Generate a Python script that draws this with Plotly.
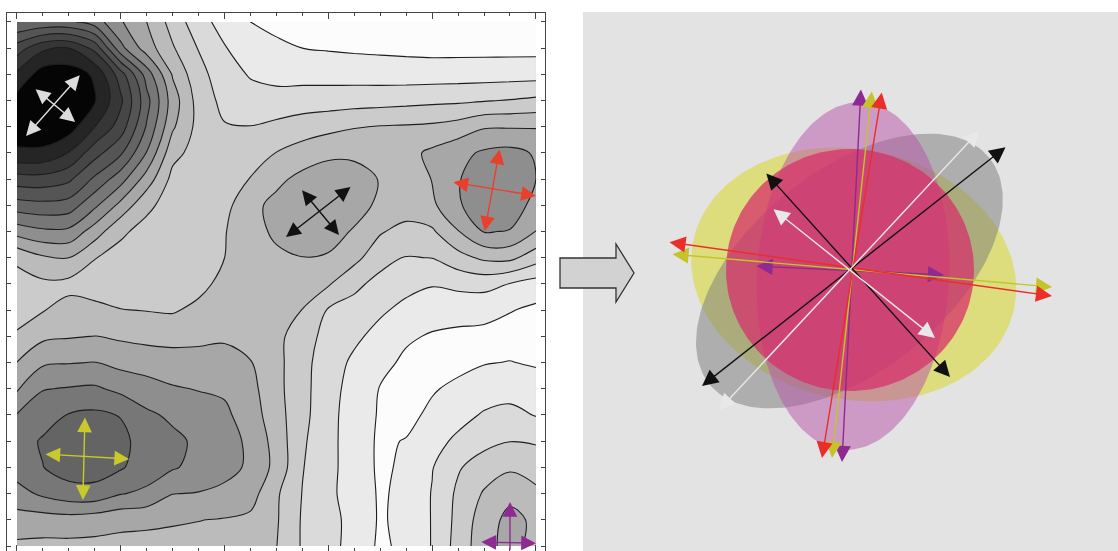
import numpy as np
import plotly.graph_objects as go

# ---------------- left panel: energy surface (contour levels) -------------
grid_x = list(range(21))
grid_y = list(range(21))
# rows listed from top (y=20) to bottom (y=0); columns x=0..20
energy_rows_top_down = [
    [6.0, 5.8, 5.8, 6.5, 7.9, 9.0, 10.4, 11.6, 12.4, 13.0, 13.4, 13.6, 13.7, 13.8, 13.8, 13.8, 13.8, 13.8, 13.8, 13.8, 13.8],
    [3.5, 2.2, 2.0, 3.3, 6.7, 8.5, 9.9, 11.05, 11.95, 12.35, 12.7, 13.0, 13.08, 13.15, 13.2, 13.25, 13.3, 13.3, 13.3, 13.3, 13.3],
    [1.8, 0.5, 0.45, 1.15, 3.55, 6.45, 9.1, 10.7, 11.5, 12.1, 12.33, 12.35, 12.38, 12.41, 12.45, 12.48, 12.48, 12.46, 12.44, 12.42, 12.39],
    [0.6, 0.2, 0.2, 0.9, 2.8, 5.65, 8.5, 10.4, 11.3, 11.53, 11.6, 11.52, 11.48, 11.43, 11.38, 11.3, 11.22, 11.17, 11.06, 10.95, 10.79],
    [0.5, 0.35, 0.5, 2.0, 3.45, 6.1, 8.85, 10.33, 10.93, 10.98, 10.77, 10.5, 10.3, 10.06, 9.95, 9.9, 9.82, 9.59, 9.1, 9.08, 9.07],
    [1.15, 1.2, 2.05, 3.6, 4.85, 7.05, 9.7, 10.4, 10.55, 10.3, 9.98, 9.58, 9.2, 9.19, 9.35, 9.3, 8.8, 8.3, 7.85, 7.7, 8.1],
    [3.45, 3.4, 3.8, 5.2, 6.6, 8.45, 10.3, 10.5, 10.45, 9.97, 9.25, 8.7, 8.5, 8.6, 9.05, 9.3, 8.98, 8.05, 7.6, 7.55, 8.0],
    [5.45, 5.3, 5.45, 6.8, 8.3, 9.8, 10.4, 10.6, 10.3, 9.3, 8.7, 8.4, 8.35, 8.6, 9.2, 9.4, 9.2, 8.1, 7.5, 7.5, 8.3],
    [7.6, 7.2, 7.25, 8.5, 9.85, 10.3, 10.5, 10.45, 10.05, 9.4, 8.8, 8.5, 8.6, 9.1, 9.9, 10.38, 10.15, 9.05, 7.95, 8.05, 9.02],
    [9.85, 9.15, 9.0, 9.97, 10.3, 10.5, 10.55, 10.4, 10.0, 9.5, 9.2, 9.02, 9.1, 9.7, 10.66, 11.05, 10.98, 10.37, 9.8, 9.75, 10.55],
    [10.3, 10.2, 10.3, 10.4, 10.5, 10.55, 10.5, 10.3, 9.7, 9.4, 9.35, 9.5, 9.9, 10.78, 11.3, 11.7, 11.93, 11.75, 11.67, 12.04, 12.43],
    [10.4, 10.05, 9.63, 9.78, 9.97, 10.03, 10.1, 9.75, 9.5, 9.4, 9.6, 10.02, 11.1, 11.35, 11.85, 12.27, 12.55, 12.65, 12.7, 12.95, 13.2],
    [9.87, 9.2, 9.08, 8.98, 9.15, 9.3, 9.3, 9.25, 9.15, 9.4, 9.7, 10.6, 11.3, 11.8, 12.33, 12.85, 13.1, 13.2, 13.25, 13.4, 13.5],
    [8.98, 8.15, 8.05, 7.97, 8.3, 8.4, 8.6, 8.6, 8.6, 8.95, 9.7, 10.7, 11.5, 12.2, 12.7, 13.2, 13.4, 13.3, 13.05, 12.97, 13.1],
    [8.13, 7.05, 6.93, 6.85, 7.25, 7.63, 7.9, 8.05, 8.15, 8.7, 9.7, 10.7, 11.6, 12.4, 13.05, 13.4, 13.1, 12.76, 12.49, 12.41, 12.57],
    [6.95, 6.38, 5.95, 5.8, 6.05, 6.8, 7.2, 7.5, 7.8, 8.5, 9.6, 10.7, 11.7, 12.45, 13.1, 13.3, 12.77, 12.33, 11.9, 11.7, 12.05],
    [6.4, 5.9, 5.55, 5.5, 5.7, 6.5, 6.75, 7.2, 7.6, 8.2, 9.4, 10.85, 11.7, 12.5, 13.15, 12.95, 12.35, 11.8, 11.3, 11.02, 11.1],
    [6.5, 6.02, 5.55, 5.55, 5.9, 6.5, 6.9, 7.3, 7.6, 8.2, 9.3, 10.95, 11.7, 12.5, 13.15, 12.85, 12.05, 11.1, 10.5, 10.15, 10.4],
    [7.4, 6.8, 6.4, 6.35, 6.95, 7.2, 7.98, 8.05, 8.3, 8.6, 9.85, 11.03, 11.75, 12.5, 13.1, 12.8, 11.95, 10.8, 9.9, 9.3, 9.8],
    [8.4, 8.45, 8.4, 8.55, 8.72, 8.8, 8.9, 8.98, 9.05, 9.2, 9.9, 11.1, 11.6, 12.4, 13.1, 12.75, 11.95, 10.7, 9.5, 8.7, 9.2],
    [9.2, 9.25, 9.25, 9.25, 9.3, 9.3, 9.3, 9.3, 9.3, 9.4, 9.98, 11.1, 11.6, 12.45, 13.15, 12.8, 11.95, 10.6, 9.4, 8.6, 9.4],
]
energy_z = energy_rows_top_down[::-1]

band_colors = ["#050505", "#252525", "#363636", "#464646", "#555555", "#646464",
               "#777777", "#8e8e8e", "#a7a7a7", "#bbbbbb", "#cbcbcb", "#dadada",
               "#eaeaea", "#fcfcfc"]

# double-headed mode arrows on the surface (tip A -> tip B), data units
left_ax0 = [2.47, 0.66, 12.91, 10.94, 18.61, 16.76, 2.62, 1.04, 17.84]
left_ay0 = [18.02, 17.48, 13.74, 13.63, 15.19, 13.89, 4.96, 3.51, 0.15]
left_ax1 = [0.35, 2.24, 10.37, 12.41, 18.03, 20.0, 2.54, 4.32, 20.0]
left_ay1 = [15.65, 16.18, 11.79, 11.87, 12.02, 13.36, 1.76, 3.32, 0.11]
left_acolor = ["#dcdcdc", "#dcdcdc", "#111111", "#111111", "#e8402c", "#e8402c",
               "#c9c92c", "#c9c92c", "#8e2a91"]
# purple vertical arrow (single head, tail below the frame)
purple_v = [19.0, -0.2, 19.0, 1.68]

# ---------------- right panel: overlapping ellipses and axes -------------------------------
ell_names = ["yellow", "gray", "magenta", "red"]
ell_cx = [2.7, -1.6, 2.0, -1.0]
ell_cy = [-5.5, -2.0, -7.0, -1.0]
ell_a = [164, 180, 174, 124]
ell_b = [125, 100, 96, 121]
ell_ang = [-12, 39, 87, 0]
ell_fill = ["rgba(216,216,58,0.6)", "rgba(122,122,122,0.5)",
            "rgba(184,79,168,0.5)", "rgba(214,48,106,0.75)"]

r_x0 = [10, -96, 21, -180, 31, -183, 156, -86, 130, -79]
r_y0 = [181, 3, 179, 15, 178, 27, 123, 97, 140, 61]
r_x1 = [-9, 93, -19, 201, -29, 201, -149, 99, -132, 84]
r_y1 = [-193, -6, -189, -18, -189, -27, -117, -108, -141, -69]
r_color = ["#8e2a91", "#8e2a91", "#c4c42a", "#c4c42a", "#ea2f2a", "#ea2f2a",
           "#111111", "#111111", "#e8e8e8", "#e8e8e8"]

fig = go.Figure()

fig.add_trace(go.Contour(
    x=grid_x, y=grid_y, z=energy_z,
    contours=dict(start=1, end=13, size=1, coloring="fill", showlines=True),
    line=dict(color="#1e1e1e", width=1.1, smoothing=1.0),
    colorscale=[[k / 13, c] for k, c in enumerate(band_colors)],
    showscale=False, hoverinfo="skip", xaxis="x", yaxis="y"))

t = np.linspace(0, 2 * np.pi, 181)
for name, cx, cy, a, b, ang, fc in zip(ell_names, ell_cx, ell_cy, ell_a, ell_b, ell_ang, ell_fill):
    th = np.deg2rad(ang)
    ex = cx + a * np.cos(t) * np.cos(th) - b * np.sin(t) * np.sin(th)
    ey = cy + a * np.cos(t) * np.sin(th) + b * np.sin(t) * np.cos(th)
    fig.add_trace(go.Scatter(x=ex, y=ey, mode="lines", fill="toself", fillcolor=fc,
                             line=dict(width=0), hoverinfo="skip", name=name,
                             xaxis="x2", yaxis="y2", showlegend=False))


def arrow(x0, y0, x1, y1, color, xr, yr, width, size, both=True):
    fig.add_annotation(x=x1, y=y1, ax=x0, ay=y0, xref=xr, yref=yr, axref=xr, ayref=yr,
                       text="", showarrow=True, arrowhead=2, startarrowhead=2,
                       arrowside="end+start" if both else "end",
                       arrowsize=size, startarrowsize=size, arrowwidth=width,
                       arrowcolor=color, standoff=0, startstandoff=0)


for x0, y0, x1, y1, c in zip(left_ax0, left_ay0, left_ax1, left_ay1, left_acolor):
    arrow(x0, y0, x1, y1, c, "x", "y", 1.4, 2.1)
arrow(purple_v[0], purple_v[1], purple_v[2], purple_v[3], "#8e2a91", "x", "y", 1.4, 2.1, both=False)

for x0, y0, x1, y1, c in zip(r_x0, r_y0, r_x1, r_y1, r_color):
    arrow(x0, y0, x1, y1, c, "x2", "y2", 1.4, 2.3)

W, H = 1118, 551
# right panel background
fig.add_shape(type="rect", xref="x2 domain", yref="y2 domain", x0=0, x1=1, y0=0, y1=1,
              fillcolor="#e3e3e3", line=dict(width=0), layer="below")
# block arrow between panels (paper coordinates)
blk = [(560, 258), (616, 258), (616, 244), (634, 273), (616, 302), (616, 288), (560, 288)]
path = "M " + " L ".join(f"{px / W:.5f},{1 - py / H:.5f}" for px, py in blk) + " Z"
fig.add_shape(type="path", xref="paper", yref="paper", path=path,
              fillcolor="#d2d2d2", line=dict(color="#333333", width=1.3))

axis_common = dict(showline=True, linecolor="#444444", linewidth=1, mirror="ticks",
                   ticks="inside", tickcolor="#444444", showticklabels=False,
                   showgrid=False, zeroline=False, fixedrange=True)
fig.update_layout(
    width=W, height=H, margin=dict(l=0, r=0, t=0, b=0),
    paper_bgcolor="white", plot_bgcolor="white", showlegend=False,
    xaxis=dict(domain=[7 / W, 545 / W], range=[-0.385, 20.35], tick0=0, dtick=4, ticklen=6,
               minor=dict(ticks="inside", dtick=1, ticklen=3, tickcolor="#444444"), **axis_common),
    yaxis=dict(domain=[0, 1 - 13 / H], range=[-0.19, 20.34], tick0=0, dtick=1, ticklen=4,
               **axis_common),
    xaxis2=dict(domain=[583 / W, 1], range=[-268, 267], visible=False, fixedrange=True),
    yaxis2=dict(domain=[0, 1 - 12 / H], range=[-282, 257], visible=False, fixedrange=True),
)

fig.write_html("out.html", config={"displayModeBar": False},
               post_script="document.body.style.margin='0';document.body.style.overflow='hidden';")
